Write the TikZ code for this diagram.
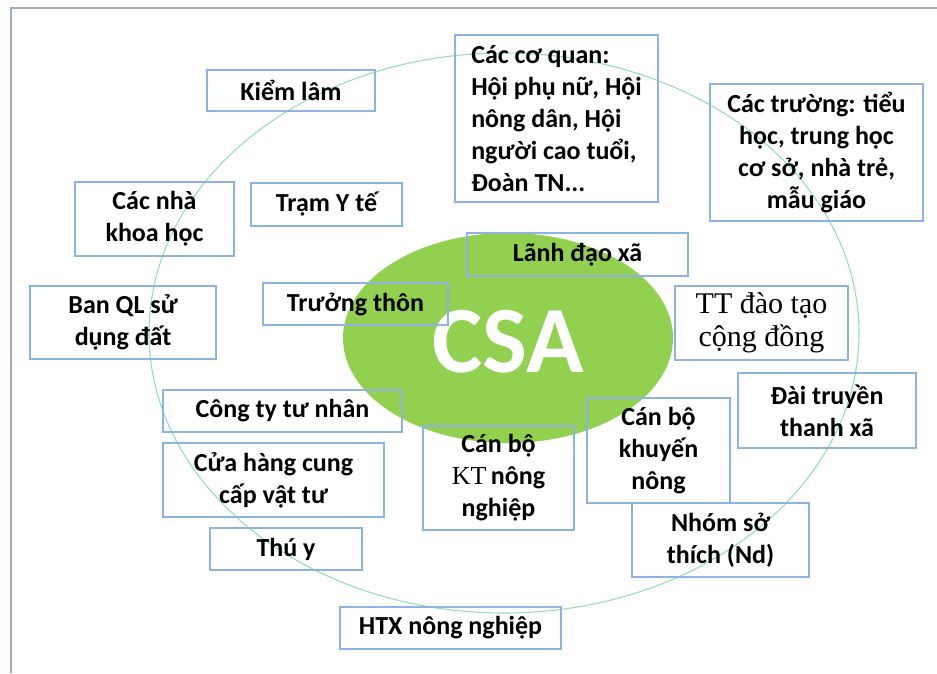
\documentclass[tikz,border=0pt]{standalone}
\usepackage{fontspec}
\setmainfont{Carlito}
\newfontfamily\serifpart{Liberation Serif}
\usepackage{xcolor}
\usetikzlibrary{shapes.geometric}
\definecolor{boxblue}{RGB}{141,179,226}
\definecolor{csagreen}{RGB}{146,208,80}
\definecolor{ringgreen}{RGB}{150,222,180}
\definecolor{framegray}{RGB}{158,172,198}

\begin{document}
\begin{tikzpicture}[x=1pt,y=-1pt,
 actor/.style={draw=boxblue,line width=1.2pt,align=center,inner sep=0pt,font=\fontsize{26}{32}\selectfont\bfseries},
 sized/.style 2 args={actor,minimum width=#1pt,minimum height=#2pt},
 ring/.style={draw=ringgreen,line width=1.1pt},
 core/.style={ellipse,fill=csagreen,minimum width=330pt,minimum height=210pt,inner sep=0pt}]
\useasboundingbox (0,0) rectangle (937,673);
\draw[draw=framegray,line width=1.6pt] (937,8) -- (11,8) -- (11,673);
% green centre and the ring round it
\node[core] (csa) at (508,338) {};
\draw[ring] (504,333) ellipse [x radius=355, y radius=280];
\node[text=white,font=\fontsize{95}{100}\selectfont\bfseries] (csatext) at (508,342) {CSA};
% members
\node[sized={168}{41}] (nKL) at (291,90.5) {Kiểm lâm};
\node[sized={159}{74}] (nKH) at (154.5,219) {Các nhà\\khoa học};
\node[sized={151}{43}] (nYT) at (326.5,204.5) {Trạm Y tế};
\node[sized={186}{73}] (nQL) at (123,322.5) {Ban QL sử\\dụng đất};
\node[sized={185}{42}] (nTT) at (355.5,304) {Trưởng thôn};
\node[sized={203}{167},align=left] (nCQ) at (556.5,118.5) {Các cơ quan:\\Hội phụ nữ, Hội\\nông dân, Hội\\người cao tuổi,\\Đoàn TN...};
\node[sized={213}{137}] (nTR) at (816.5,152.5) {Các trường: tiểu\\học, trung học\\cơ sở, nhà trẻ,\\mẫu giáo};
\node[sized={221}{43}] (nLD) at (577.5,254.5) {Lãnh đạo xã};
\node[sized={173}{74},font=\fontsize{30}{33}\selectfont\serifpart] (nDT) at (761.5,323) {TT đào tạo\\cộng đồng};
\node[sized={178}{75}] (nPT) at (827,410.5) {Đài truyền\\thanh xã};
\node[sized={239}{42}] (nCT) at (282.5,411) {Công ty tư nhân};
\node[sized={221}{74}] (nCH) at (273.5,480) {Cửa hàng cung\\cấp vật tư};
\node[sized={152}{42}] (nTY) at (286,549) {Thú y};
\node[sized={151}{104}] (nKT) at (498.5,478) {Cán bộ\\{\mdseries\serifpart KT}\,nông\\nghiệp};
\node[sized={143}{105}] (nKN) at (658.5,450.5) {Cán bộ\\khuyến\\nông};
\node[sized={177}{74}] (nST) at (720.5,540) {Nhóm sở\\thích (Nd)};
\node[sized={221}{42}] (nHTX) at (450.5,628) {HTX nông nghiệp};
\end{tikzpicture}
\end{document}
